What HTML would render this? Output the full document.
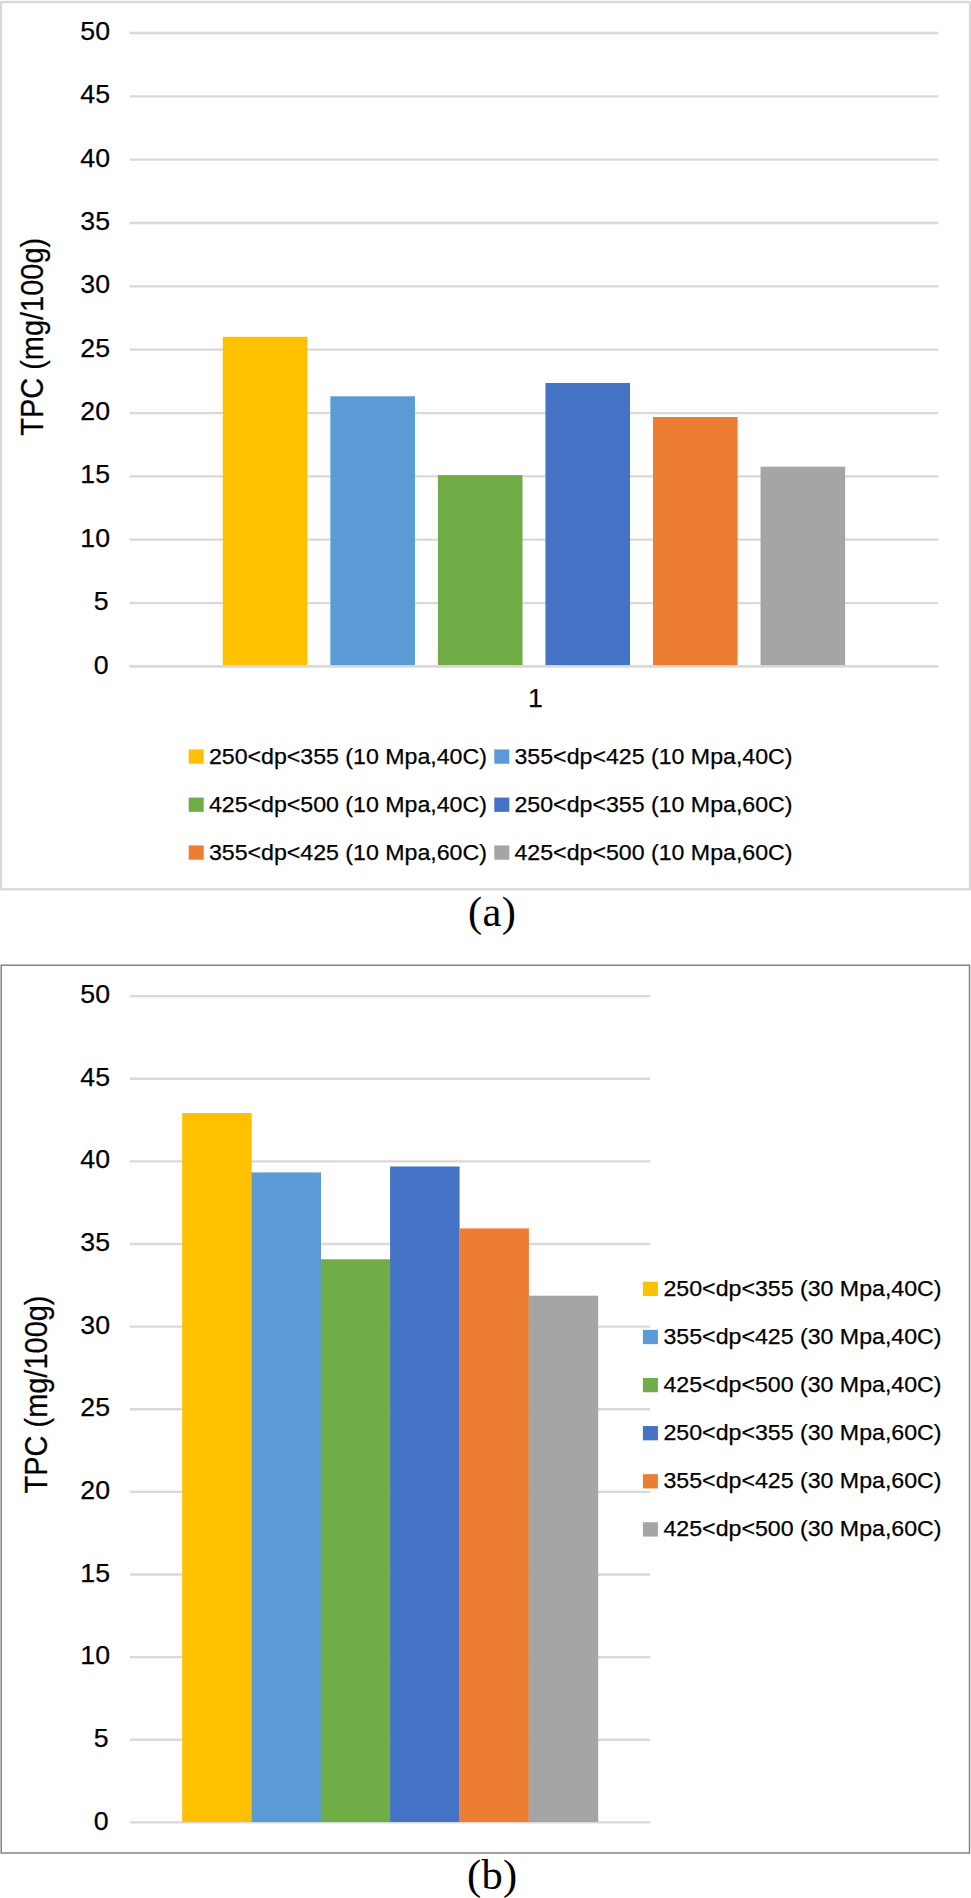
<!DOCTYPE html>
<html lang="en"><head><meta charset="utf-8"><title>TPC charts</title>
<style>
html,body{margin:0;padding:0;background:#fff;}
svg{display:block;}
.s{font-family:"Liberation Sans",sans-serif;fill:#000;stroke:#000;stroke-width:0.25px;}
.r{font-family:"Liberation Serif",serif;fill:#000;}
</style></head><body>
<svg width="971" height="1898" viewBox="0 0 971 1898">
<rect x="0" y="0" width="971" height="1898" fill="#fff"/>
<g id="chart-a">
<rect x="1" y="2" width="969" height="887.3" fill="#fff" stroke="#D9D9D9" stroke-width="2.3"/>
<line x1="129.6" x2="938.3" y1="33.00" y2="33.00" stroke="#D9D9D9" stroke-width="2.3"/>
<text class="s" x="110" y="40.10" font-size="26.7" text-anchor="end">50</text>
<line x1="129.6" x2="938.3" y1="96.34" y2="96.34" stroke="#D9D9D9" stroke-width="2.3"/>
<text class="s" x="110" y="103.44" font-size="26.7" text-anchor="end">45</text>
<line x1="129.6" x2="938.3" y1="159.68" y2="159.68" stroke="#D9D9D9" stroke-width="2.3"/>
<text class="s" x="110" y="166.78" font-size="26.7" text-anchor="end">40</text>
<line x1="129.6" x2="938.3" y1="223.02" y2="223.02" stroke="#D9D9D9" stroke-width="2.3"/>
<text class="s" x="110" y="230.12" font-size="26.7" text-anchor="end">35</text>
<line x1="129.6" x2="938.3" y1="286.36" y2="286.36" stroke="#D9D9D9" stroke-width="2.3"/>
<text class="s" x="110" y="293.46" font-size="26.7" text-anchor="end">30</text>
<line x1="129.6" x2="938.3" y1="349.70" y2="349.70" stroke="#D9D9D9" stroke-width="2.3"/>
<text class="s" x="110" y="356.80" font-size="26.7" text-anchor="end">25</text>
<line x1="129.6" x2="938.3" y1="413.04" y2="413.04" stroke="#D9D9D9" stroke-width="2.3"/>
<text class="s" x="110" y="420.14" font-size="26.7" text-anchor="end">20</text>
<line x1="129.6" x2="938.3" y1="476.38" y2="476.38" stroke="#D9D9D9" stroke-width="2.3"/>
<text class="s" x="110" y="483.48" font-size="26.7" text-anchor="end">15</text>
<line x1="129.6" x2="938.3" y1="539.72" y2="539.72" stroke="#D9D9D9" stroke-width="2.3"/>
<text class="s" x="110" y="546.82" font-size="26.7" text-anchor="end">10</text>
<line x1="129.6" x2="938.3" y1="603.06" y2="603.06" stroke="#D9D9D9" stroke-width="2.3"/>
<text class="s" x="108.6" y="610.16" font-size="26.7" text-anchor="end">5</text>
<line x1="129.6" x2="938.3" y1="666.40" y2="666.40" stroke="#D9D9D9" stroke-width="2.3"/>
<text class="s" x="108.6" y="673.50" font-size="26.7" text-anchor="end">0</text>
<rect x="222.80" y="336.80" width="84.6" height="328.60" fill="#FFC000"/>
<rect x="330.35" y="396.30" width="84.6" height="269.10" fill="#5B9BD5"/>
<rect x="437.90" y="475.10" width="84.6" height="190.30" fill="#70AD47"/>
<rect x="545.45" y="383.00" width="84.6" height="282.40" fill="#4472C4"/>
<rect x="653.00" y="417.00" width="84.6" height="248.40" fill="#ED7D31"/>
<rect x="760.55" y="466.70" width="84.6" height="198.70" fill="#A5A5A5"/>
<line x1="129.6" x2="938.3" y1="666.40" y2="666.40" stroke="#D9D9D9" stroke-width="2.3"/>
<text class="s" x="535.3" y="707" font-size="26.7" text-anchor="middle">1</text>
<text class="s" font-size="30.5" text-anchor="middle" transform="translate(42.6,336.8) rotate(-90)" textLength="198" lengthAdjust="spacingAndGlyphs">TPC (mg/100g)</text>
<rect x="188.7" y="749.45" width="15" height="14.3" fill="#FFC000"/>
<text class="s" x="208.9" y="763.60" font-size="22.4" textLength="278" lengthAdjust="spacingAndGlyphs">250&lt;dp&lt;355 (10 Mpa,40C)</text>
<rect x="494.3" y="749.45" width="15" height="14.3" fill="#5B9BD5"/>
<text class="s" x="514.5" y="763.60" font-size="22.4" textLength="278" lengthAdjust="spacingAndGlyphs">355&lt;dp&lt;425 (10 Mpa,40C)</text>
<rect x="188.7" y="797.55" width="15" height="14.3" fill="#70AD47"/>
<text class="s" x="208.9" y="811.70" font-size="22.4" textLength="278" lengthAdjust="spacingAndGlyphs">425&lt;dp&lt;500 (10 Mpa,40C)</text>
<rect x="494.3" y="797.55" width="15" height="14.3" fill="#4472C4"/>
<text class="s" x="514.5" y="811.70" font-size="22.4" textLength="278" lengthAdjust="spacingAndGlyphs">250&lt;dp&lt;355 (10 Mpa,60C)</text>
<rect x="188.7" y="845.45" width="15" height="14.3" fill="#ED7D31"/>
<text class="s" x="208.9" y="859.60" font-size="22.4" textLength="278" lengthAdjust="spacingAndGlyphs">355&lt;dp&lt;425 (10 Mpa,60C)</text>
<rect x="494.3" y="845.45" width="15" height="14.3" fill="#A5A5A5"/>
<text class="s" x="514.5" y="859.60" font-size="22.4" textLength="278" lengthAdjust="spacingAndGlyphs">425&lt;dp&lt;500 (10 Mpa,60C)</text>
</g>
<text class="r" x="492.1" y="926.0" letter-spacing="0.3" font-size="42.5" text-anchor="middle">(a)</text>
<g id="chart-b">
<rect x="1.2" y="965.2" width="968.3" height="887.8" fill="#fff" stroke="#828282" stroke-width="1.5"/>
<line x1="130" x2="650.2" y1="996.10" y2="996.10" stroke="#D9D9D9" stroke-width="2.3"/>
<text class="s" x="110" y="1003.20" font-size="26.7" text-anchor="end">50</text>
<line x1="130" x2="650.2" y1="1078.73" y2="1078.73" stroke="#D9D9D9" stroke-width="2.3"/>
<text class="s" x="110" y="1085.83" font-size="26.7" text-anchor="end">45</text>
<line x1="130" x2="650.2" y1="1161.36" y2="1161.36" stroke="#D9D9D9" stroke-width="2.3"/>
<text class="s" x="110" y="1168.46" font-size="26.7" text-anchor="end">40</text>
<line x1="130" x2="650.2" y1="1243.99" y2="1243.99" stroke="#D9D9D9" stroke-width="2.3"/>
<text class="s" x="110" y="1251.09" font-size="26.7" text-anchor="end">35</text>
<line x1="130" x2="650.2" y1="1326.62" y2="1326.62" stroke="#D9D9D9" stroke-width="2.3"/>
<text class="s" x="110" y="1333.72" font-size="26.7" text-anchor="end">30</text>
<line x1="130" x2="650.2" y1="1409.25" y2="1409.25" stroke="#D9D9D9" stroke-width="2.3"/>
<text class="s" x="110" y="1416.35" font-size="26.7" text-anchor="end">25</text>
<line x1="130" x2="650.2" y1="1491.88" y2="1491.88" stroke="#D9D9D9" stroke-width="2.3"/>
<text class="s" x="110" y="1498.98" font-size="26.7" text-anchor="end">20</text>
<line x1="130" x2="650.2" y1="1574.51" y2="1574.51" stroke="#D9D9D9" stroke-width="2.3"/>
<text class="s" x="110" y="1581.61" font-size="26.7" text-anchor="end">15</text>
<line x1="130" x2="650.2" y1="1657.14" y2="1657.14" stroke="#D9D9D9" stroke-width="2.3"/>
<text class="s" x="110" y="1664.24" font-size="26.7" text-anchor="end">10</text>
<line x1="130" x2="650.2" y1="1739.77" y2="1739.77" stroke="#D9D9D9" stroke-width="2.3"/>
<text class="s" x="108.6" y="1746.87" font-size="26.7" text-anchor="end">5</text>
<line x1="130" x2="650.2" y1="1822.40" y2="1822.40" stroke="#D9D9D9" stroke-width="2.3"/>
<text class="s" x="108.6" y="1829.50" font-size="26.7" text-anchor="end">0</text>
<rect x="182.20" y="1113.00" width="69.50" height="709.00" fill="#FFC000"/>
<rect x="251.50" y="1172.40" width="69.50" height="649.60" fill="#5B9BD5"/>
<rect x="320.80" y="1259.30" width="69.50" height="562.70" fill="#70AD47"/>
<rect x="390.10" y="1166.50" width="69.50" height="655.50" fill="#4472C4"/>
<rect x="459.40" y="1228.40" width="69.50" height="593.60" fill="#ED7D31"/>
<rect x="528.70" y="1295.70" width="69.50" height="526.30" fill="#A5A5A5"/>
<text class="s" font-size="30.5" text-anchor="middle" transform="translate(47.3,1394.5) rotate(-90)" textLength="198" lengthAdjust="spacingAndGlyphs">TPC (mg/100g)</text>
<rect x="642.9" y="1281.75" width="15" height="14.3" fill="#FFC000"/>
<text class="s" x="663.5" y="1295.90" font-size="22.4" textLength="278" lengthAdjust="spacingAndGlyphs">250&lt;dp&lt;355 (30 Mpa,40C)</text>
<rect x="642.9" y="1329.85" width="15" height="14.3" fill="#5B9BD5"/>
<text class="s" x="663.5" y="1344.00" font-size="22.4" textLength="278" lengthAdjust="spacingAndGlyphs">355&lt;dp&lt;425 (30 Mpa,40C)</text>
<rect x="642.9" y="1377.95" width="15" height="14.3" fill="#70AD47"/>
<text class="s" x="663.5" y="1392.10" font-size="22.4" textLength="278" lengthAdjust="spacingAndGlyphs">425&lt;dp&lt;500 (30 Mpa,40C)</text>
<rect x="642.9" y="1426.05" width="15" height="14.3" fill="#4472C4"/>
<text class="s" x="663.5" y="1440.20" font-size="22.4" textLength="278" lengthAdjust="spacingAndGlyphs">250&lt;dp&lt;355 (30 Mpa,60C)</text>
<rect x="642.9" y="1474.15" width="15" height="14.3" fill="#ED7D31"/>
<text class="s" x="663.5" y="1488.30" font-size="22.4" textLength="278" lengthAdjust="spacingAndGlyphs">355&lt;dp&lt;425 (30 Mpa,60C)</text>
<rect x="642.9" y="1522.25" width="15" height="14.3" fill="#A5A5A5"/>
<text class="s" x="663.5" y="1536.40" font-size="22.4" textLength="278" lengthAdjust="spacingAndGlyphs">425&lt;dp&lt;500 (30 Mpa,60C)</text>
</g>
<text class="r" x="492.3" y="1889.1" letter-spacing="0.3" font-size="42.5" text-anchor="middle">(b)</text>
</svg>
</body></html>
